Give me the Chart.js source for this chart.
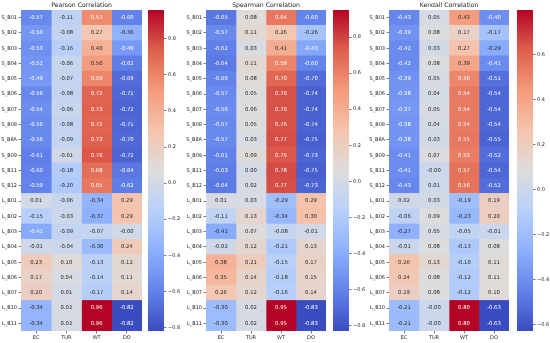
<!DOCTYPE html>
<html>
<head>
<meta charset="utf-8">
<script src="https://cdn.jsdelivr.net/npm/chart.js@4.4.0/dist/chart.umd.min.js"></script>
<style>
body { margin: 0; background: #fff; width: 550px; height: 343px; overflow: hidden; position: relative; }
canvas { position: absolute; top: 0; }
</style>
</head>
<body>
<canvas id="pHeat" width="142" height="343" style="left:0px"></canvas>
<canvas id="pBar" width="36" height="343" style="left:148px"></canvas>
<canvas id="sHeat" width="141" height="343" style="left:185px"></canvas>
<canvas id="sBar" width="36" height="343" style="left:333px"></canvas>
<canvas id="kHeat" width="141" height="343" style="left:368px"></canvas>
<canvas id="kBar" width="33" height="343" style="left:517px"></canvas>
<script>
const rows = ['S_B01', 'S_B02', 'S_B03', 'S_B04', 'S_B05', 'S_B06', 'S_B07', 'S_B08', 'S_B8A', 'S_B09', 'S_B11', 'S_B12',
  'L_B01', 'L_B02', 'L_B03', 'L_B04', 'L_B05', 'L_B06', 'L_B07', 'L_B10', 'L_B11'];
const cols = ['EC', 'TUR', 'WT', 'DO'];

// Pearson
const pearsonEC = [-0.57, -0.50, -0.53, -0.51, -0.49, -0.56, -0.54, -0.56, -0.56, -0.61, -0.60, -0.59, 0.01, -0.15, -0.41, -0.01, 0.23, 0.17, 0.20, -0.34, -0.34];
const pearsonTUR = [-0.11, -0.08, -0.16, -0.06, -0.07, -0.08, -0.06, -0.08, -0.09, -0.01, -0.18, -0.20, -0.06, -0.03, -0.09, -0.04, 0.10, 0.04, 0.01, 0.02, 0.02];
const pearsonWT = [0.57, 0.27, 0.40, 0.50, 0.59, 0.72, 0.73, 0.72, 0.73, 0.76, 0.68, 0.65, -0.34, -0.37, -0.07, -0.30, -0.13, -0.14, -0.17, 0.96, 0.96];
const pearsonDO = [-0.60, -0.36, -0.49, -0.62, -0.69, -0.71, -0.72, -0.71, -0.70, -0.72, -0.64, -0.62, 0.29, 0.29, -0.004, 0.24, 0.12, 0.11, 0.14, -0.82, -0.82];

// Spearman
const spearmanEC = [-0.65, -0.57, -0.62, -0.64, -0.60, -0.57, -0.56, -0.57, -0.57, -0.61, -0.63, -0.64, 0.01, -0.11, -0.41, -0.02, 0.38, 0.35, 0.26, -0.30, -0.30];
const spearmanTUR = [0.08, 0.11, 0.03, 0.11, 0.08, 0.05, 0.06, 0.05, 0.03, 0.09, 0.00, 0.02, 0.03, 0.13, 0.07, 0.12, 0.21, 0.14, 0.12, 0.02, 0.02];
const spearmanWT = [0.64, 0.26, 0.41, 0.59, 0.70, 0.76, 0.76, 0.76, 0.77, 0.75, 0.78, 0.77, -0.29, -0.34, -0.08, -0.21, -0.15, -0.18, -0.16, 0.95, 0.95];
const spearmanDO = [-0.60, -0.26, -0.43, -0.60, -0.70, -0.74, -0.74, -0.74, -0.75, -0.73, -0.75, -0.73, 0.29, 0.30, -0.01, 0.13, 0.17, 0.15, 0.14, -0.83, -0.83];

// Kendall
const kendallEC = [-0.43, -0.39, -0.42, -0.42, -0.39, -0.38, -0.37, -0.38, -0.38, -0.41, -0.41, -0.43, 0.02, -0.06, -0.27, -0.01, 0.26, 0.24, 0.19, -0.21, -0.21];
const kendallTUR = [0.05, 0.08, 0.03, 0.08, 0.05, 0.04, 0.05, 0.04, 0.03, 0.07, -0.004, 0.01, 0.03, 0.09, 0.05, 0.08, 0.13, 0.08, 0.08, -0.004, -0.004];
const kendallWT = [0.43, 0.17, 0.27, 0.39, 0.50, 0.54, 0.54, 0.54, 0.55, 0.53, 0.57, 0.56, -0.19, -0.23, -0.05, -0.13, -0.10, -0.12, -0.12, 0.80, 0.80];
const kendallDO = [-0.40, -0.17, -0.29, -0.41, -0.51, -0.54, -0.54, -0.54, -0.55, -0.52, -0.54, -0.52, 0.19, 0.20, -0.01, 0.08, 0.11, 0.11, 0.10, -0.63, -0.63];

const pearsonTicks = [-0.8, -0.6, -0.4, -0.2, 0, 0.2, 0.4, 0.6, 0.8];
const spearmanTicks = [-0.8, -0.6, -0.4, -0.2, 0, 0.2, 0.4, 0.6, 0.8];
const kendallTicks = [-0.6, -0.4, -0.2, 0, 0.2, 0.4, 0.6];

// matplotlib coolwarm, approximated
const cwStops = [
  [0, [59, 76, 192]], [0.125, [98, 130, 234]], [0.25, [141, 176, 254]], [0.375, [184, 208, 249]],
  [0.5, [221, 221, 221]], [0.625, [245, 196, 173]], [0.75, [244, 154, 123]], [0.875, [222, 96, 77]], [1, [180, 4, 38]]
];

function coolwarm(t) {
  t = Math.max(0, Math.min(1, t));
  for (let i = 1; i < cwStops.length; i++) {
    if (t <= cwStops[i][0]) {
      const [t0, c0] = cwStops[i - 1], [t1, c1] = cwStops[i];
      const f = (t - t0) / (t1 - t0);
      return c0.map((v, k) => Math.round(v + (c1[k] - v) * f));
    }
  }
  return cwStops[cwStops.length - 1][1];
}
const rgbStr = c => `rgb(${c[0]},${c[1]},${c[2]})`;

function textColor(c) {
  const lin = c.map(v => { v /= 255; return v <= 0.03928 ? v / 12.92 : Math.pow((v + 0.055) / 1.055, 2.4); });
  const l = 0.2126 * lin[0] + 0.7152 * lin[1] + 0.0722 * lin[2];
  return l > 0.408 ? '#262626' : '#ffffff';
}

const FONT = '"DejaVu Sans", sans-serif';
const INK = '#222';

const annot = {
  id: 'annot',
  afterDatasetsDraw(chart) {
    const c = chart.ctx;
    c.save();
    c.font = '5.3px ' + FONT;
    c.textAlign = 'center';
    c.textBaseline = 'middle';
    chart.data.datasets.forEach((ds, j) => {
      chart.getDatasetMeta(j).data.forEach((bar, i) => {
        c.fillStyle = ds.textColors[i];
        c.fillText(ds.values[i].toFixed(2), (bar.x + bar.base) / 2, bar.y);
      });
    });
    c.restore();
  }
};

const heatTitle = {
  id: 'heatTitle',
  afterDraw(chart, args, opts) {
    const c = chart.ctx, a = chart.chartArea;
    c.save();
    c.font = '6.2px ' + FONT;
    c.fillStyle = INK;
    c.textAlign = 'center';
    c.textBaseline = 'middle';
    c.fillText(opts.text, (a.left + a.right) / 2, 5.5);
    c.restore();
  }
};

function heatmap(id, title, series, axisWidth) {
  const all = series.flat();
  const vmin = Math.min(...all), vmax = Math.max(...all);
  const datasets = series.map((vals, j) => {
    const rgb = vals.map(v => coolwarm((v - vmin) / (vmax - vmin)));
    return {
      label: cols[j],
      data: vals.map(() => 1),
      values: vals,
      backgroundColor: rgb.map(rgbStr),
      textColors: rgb.map(textColor),
      borderWidth: 0
    };
  });
  new Chart(document.getElementById(id), {
    type: 'bar',
    data: { labels: rows, datasets },
    options: {
      indexAxis: 'y',
      responsive: false,
      animation: false,
      devicePixelRatio: 1,
      layout: { padding: { top: 10, right: 0, bottom: 0, left: 0 } },
      datasets: { bar: { barPercentage: 1, categoryPercentage: 1 } },
      plugins: {
        legend: { display: false },
        tooltip: { enabled: false },
        heatTitle: { text: title }
      },
      scales: {
        x: { type: 'linear', stacked: true, min: 0, max: cols.length, display: false },
        xc: {
          axis: 'x', type: 'category', labels: cols, position: 'bottom', offset: true,
          grid: { drawOnChartArea: false, offset: false, tickLength: 2.5, color: INK, lineWidth: 0.6 },
          border: { display: false },
          ticks: { padding: 1.5, color: INK, font: { family: FONT, size: 5 }, maxRotation: 0 },
          afterFit: s => { s.height = 12; }
        },
        y: {
          type: 'category', stacked: true, offset: true,
          grid: { drawOnChartArea: false, offset: false, tickLength: 2.5, color: INK, lineWidth: 0.6 },
          border: { display: false },
          ticks: { padding: 1.5, color: INK, font: { family: FONT, size: 5 }, autoSkip: false },
          afterFit: s => { s.width = axisWidth; }
        }
      }
    },
    plugins: [annot, heatTitle]
  });
  return [vmin, vmax];
}

function colorbar(id, range, tickVals) {
  const [vmin, vmax] = range;
  new Chart(document.getElementById(id), {
    type: 'bar',
    data: {
      labels: [''],
      datasets: [{
        data: [[vmin, vmax]],
        borderWidth: 0,
        backgroundColor: ctx => {
          const a = ctx.chart.chartArea;
          if (!a) return '#ddd';
          const g = ctx.chart.ctx.createLinearGradient(0, a.bottom, 0, a.top);
          cwStops.forEach(([t, c]) => g.addColorStop(t, rgbStr(c)));
          return g;
        }
      }]
    },
    options: {
      responsive: false,
      animation: false,
      devicePixelRatio: 1,
      layout: { padding: { top: 10, right: 0, bottom: 12, left: 0 } },
      datasets: { bar: { barPercentage: 1, categoryPercentage: 1 } },
      plugins: { legend: { display: false }, tooltip: { enabled: false } },
      scales: {
        x: { display: false },
        y: {
          position: 'right', min: vmin, max: vmax,
          grid: { drawOnChartArea: false, tickLength: 2.5, color: INK, lineWidth: 0.6 },
          border: { display: false },
          ticks: {
            padding: 1.5, color: INK, font: { family: FONT, size: 5 },
            callback: v => v.toFixed(1).replace('-', '\u2212')
          },
          afterBuildTicks: s => { s.ticks = tickVals.map(v => ({ value: v })); },
          afterFit: s => { s.width = s.chart.width - 16; }
        }
      }
    }
  });
}

const pRange = heatmap('pHeat', 'Pearson Correlation', [pearsonEC, pearsonTUR, pearsonWT, pearsonDO], 21);
const sRange = heatmap('sHeat', 'Spearman Correlation', [spearmanEC, spearmanTUR, spearmanWT, spearmanDO], 21);
const kRange = heatmap('kHeat', 'Kendall Correlation', [kendallEC, kendallTUR, kendallWT, kendallDO], 21);
colorbar('pBar', pRange, pearsonTicks);
colorbar('sBar', sRange, spearmanTicks);
colorbar('kBar', kRange, kendallTicks);
</script>
</body>
</html>
